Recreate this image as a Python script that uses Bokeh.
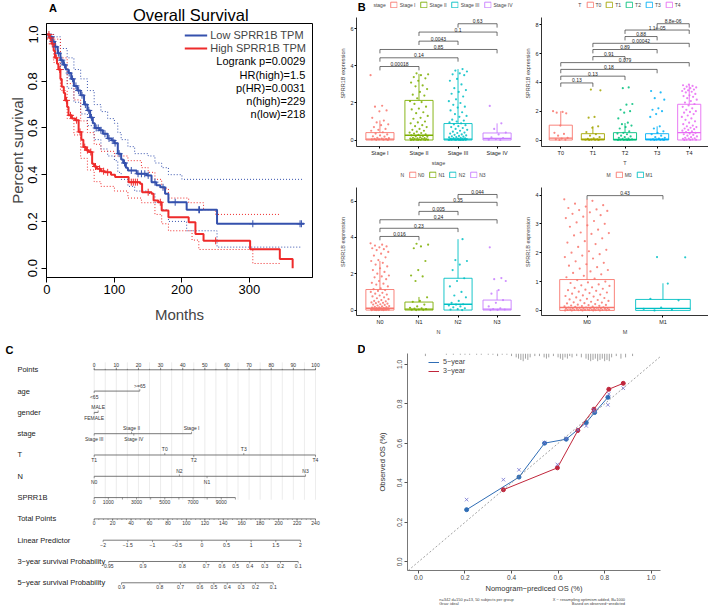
import numpy as np
from bokeh.plotting import figure
from bokeh.models import (ColumnDataSource, Range1d, FixedTicker, Legend, LegendItem,
                          Slope, PrintfTickFormatter)
from bokeh.layouts import row, column
from bokeh.embed import file_html
from bokeh.resources import INLINE
from bokeh.core.properties import value

FONT = "Liberation Sans"

# ---------------- Panel A data (Kaplan-Meier) ----------------
low_t = [0, 4, 8, 12, 16, 20, 24, 28, 32, 36, 40, 45, 50, 55, 60, 64, 68, 71, 78, 83,
         90, 96, 100, 105, 110, 113, 117, 120, 133, 148, 155, 162, 168, 175, 180, 207, 252, 381]
low_s = [1.0, 0.99, 0.97, 0.947, 0.92, 0.89, 0.87, 0.85, 0.835, 0.81, 0.78, 0.76, 0.74, 0.70, 0.675,
         0.645, 0.62, 0.60, 0.59, 0.575, 0.555, 0.546, 0.535, 0.49, 0.465, 0.45, 0.43, 0.418, 0.404,
         0.397, 0.368, 0.355, 0.346, 0.318, 0.282, 0.25, 0.19, 0.19]
high_t = [0, 4, 7, 10, 12, 15, 17, 20, 22, 25, 27, 30, 32, 37, 42, 47, 51, 54, 58, 62, 67, 70, 74,
          80, 86, 95, 101, 121, 138, 141, 155, 158, 165, 170, 180, 210, 220, 232, 301, 345, 364]
high_s = [1.0, 0.985, 0.96, 0.93, 0.90, 0.875, 0.85, 0.81, 0.776, 0.75, 0.718, 0.69, 0.654, 0.64,
          0.633, 0.583, 0.55, 0.518, 0.505, 0.497, 0.447, 0.435, 0.425, 0.415, 0.41, 0.40, 0.39,
          0.368, 0.361, 0.325, 0.318, 0.29, 0.282, 0.247, 0.218, 0.196, 0.146, 0.117, 0.081, 0.039, 0.0]
low_up_t = [0, 10, 20, 30, 40, 50, 60, 70, 80, 90, 100, 105, 110, 120, 130, 150, 160, 170, 180, 200, 378]
low_up_s = [1.0, 0.99, 0.94, 0.90, 0.85, 0.81, 0.76, 0.70, 0.67, 0.64, 0.62, 0.58, 0.55, 0.52, 0.49,
            0.48, 0.45, 0.43, 0.40, 0.38, 0.38]
low_lo_t = [0, 10, 20, 30, 40, 50, 60, 70, 80, 90, 100, 105, 110, 120, 130, 150, 160, 170, 180, 207, 252, 378]
low_lo_s = [1.0, 0.93, 0.85, 0.77, 0.71, 0.66, 0.61, 0.55, 0.51, 0.48, 0.46, 0.41, 0.38, 0.35, 0.33,
            0.32, 0.28, 0.25, 0.20, 0.16, 0.09, 0.09]
high_up_t = [0, 10, 20, 30, 40, 50, 60, 70, 80, 100, 120, 140, 150, 160, 170, 180, 210, 232, 250, 345]
high_up_s = [1.0, 0.98, 0.90, 0.79, 0.72, 0.63, 0.58, 0.53, 0.50, 0.48, 0.46, 0.43, 0.41, 0.38, 0.34,
             0.30, 0.28, 0.25, 0.23, 0.23]
high_lo_t = [0, 10, 20, 30, 40, 50, 60, 70, 80, 100, 120, 140, 160, 170, 180, 215, 225, 305, 345]
high_lo_s = [0.98, 0.88, 0.76, 0.64, 0.57, 0.47, 0.42, 0.37, 0.35, 0.33, 0.30, 0.28, 0.23, 0.19,
             0.16, 0.12, 0.08, 0.02, 0.02]
low_cens = [6, 9, 13, 17, 22, 26, 33, 38, 43, 47, 52, 57, 62, 66, 73, 76, 80, 86, 92, 98, 101, 107,
            115, 125, 135, 140, 145, 150, 160, 172, 190, 225, 226, 305, 375, 377]
high_cens = [3, 5, 8, 14, 19, 29, 35, 44, 49, 56, 60, 65, 72, 78, 84, 90, 125, 128, 131, 134, 150, 168, 250]
stats_text = ["Logrank p=0.0029", "HR(high)=1.5", "p(HR)=0.0031", "n(high)=229", "n(low)=218"]

# ---------------- Panel B data ----------------
stage_names = ["Stage I", "Stage II", "Stage III", "Stage IV"]
stage_q1 = [0, 0, 0, 0]
stage_med = [0.05, 0.26, 0.05, 0.08]
stage_q3 = [0.4, 2.14, 0.89, 0.38]
stage_whi = [1.06, 3.57, 3.83, 0.9]
stage_pts = [
    [3.5, 1.85, 1.8, 1.6, 1.55, 1.2, 1.05, 0.95, 0.85, 0.8, 0.7, 0.6, 0.55, 0.5, 0.42, 0.35, 0.3, 0.25,
     0.2, 0.18, 0.12, 0.1, 0.08, 0.06, 0.05, 0.04, 0.03, 0.02, 0.01, 0.0],
    [3.6, 3.55, 3.5, 3.4, 3.33, 3.2, 3.1, 2.95, 2.9, 2.75, 2.6, 2.45, 2.4, 2.25, 2.1, 2.05, 1.95, 1.8,
     1.7, 1.65, 1.5, 1.45, 1.3, 1.2, 1.15, 1.0, 0.95, 0.9, 0.8, 0.75, 0.7, 0.6, 0.55, 0.5, 0.45, 0.4,
     0.38, 0.35, 0.3, 0.28, 0.25, 0.22, 0.2, 0.18, 0.15, 0.12, 0.1, 0.09, 0.08, 0.07, 0.06, 0.05, 0.04,
     0.03, 0.03, 0.02, 0.02, 0.01, 0.01, 0.0, 0.0, 0.0],
    [3.83, 3.75, 3.7, 3.6, 3.55, 3.5, 3.3, 3.2, 3.0, 2.8, 2.7, 2.6, 2.5, 2.35, 2.2, 2.1, 2.0, 1.9, 1.8,
     1.75, 1.6, 1.5, 1.4, 1.3, 1.25, 1.1, 1.05, 1.0, 0.95, 0.9, 0.85, 0.8, 0.75, 0.7, 0.65, 0.6, 0.55,
     0.5, 0.45, 0.4, 0.38, 0.35, 0.3, 0.28, 0.25, 0.22, 0.2, 0.18, 0.16, 0.14, 0.12, 0.1, 0.09, 0.08,
     0.07, 0.06, 0.05, 0.05, 0.04, 0.04, 0.03, 0.03, 0.02, 0.02, 0.02, 0.01, 0.01, 0.01, 0.0, 0.0, 0.0, 0.0],
    [1.84, 0.9, 0.6, 0.4, 0.3, 0.15, 0.1, 0.05, 0.02, 0.0],
]
stage_cmp = [(1, 2, "0.00018", 3.97), (1, 3, "0.14", 4.44), (1, 4, "0.85", 4.89),
             (2, 3, "0.0043", 5.34), (2, 4, "0.1", 5.83), (3, 4, "0.63", 6.28)]

t_names = ["T0", "T1", "T2", "T3", "T4"]
t_q1 = [0, 0, 0, 0, 0]
t_med = [0.13, 0.05, 0.04, 0.05, 0.51]
t_q3 = [1.03, 0.44, 0.51, 0.44, 2.48]
t_whi = [2.0, 0.96, 1.18, 0.95, 3.83]
t_pts = [
    [2.0, 1.95, 1.9, 1.85, 1.0, 0.5, 0.42, 0.3, 0.15, 0.1, 0.05, 0.02, 0.0],
    [3.5, 3.45, 1.6, 1.55, 0.95, 0.85, 0.55, 0.4, 0.3, 0.2, 0.12, 0.08, 0.05, 0.03, 0.02, 0.01, 0.0, 0.0],
    [3.65, 3.6, 2.5, 2.45, 2.1, 2.0, 1.9, 1.5, 1.2, 1.1, 1.0, 0.9, 0.8, 0.6, 0.5, 0.45, 0.4, 0.3, 0.25,
     0.2, 0.15, 0.1, 0.08, 0.05, 0.04, 0.03, 0.02, 0.01, 0.0, 0.0],
    [3.4, 3.3, 2.9, 2.8, 2.2, 2.1, 2.0, 1.8, 1.6, 0.95, 0.8, 0.6, 0.5, 0.4, 0.3, 0.2, 0.15, 0.1, 0.05,
     0.04, 0.03, 0.02, 0.01, 0.0, 0.0],
    [3.85, 3.8, 3.75, 3.7, 3.65, 3.6, 3.55, 3.5, 3.45, 3.4, 3.35, 3.3, 3.2, 3.1, 3.05, 3.0, 2.9, 2.8,
     2.7, 2.6, 2.5, 2.4, 2.3, 2.2, 2.1, 2.0, 1.95, 1.9, 1.8, 1.7, 1.6, 1.5, 1.4, 1.3, 1.2, 1.1, 1.0,
     0.95, 0.9, 0.85, 0.8, 0.75, 0.7, 0.65, 0.6, 0.55, 0.5, 0.45, 0.4, 0.35, 0.3, 0.25, 0.2, 0.15,
     0.12, 0.1, 0.08, 0.05, 0.03, 0.02, 0.01, 0.0],
]
t_cmp = [(1, 2, "0.13", 3.96), (1, 3, "0.13", 4.43), (1, 4, "0.18", 4.90), (1, 5, "0.079", 5.37),
         (2, 3, "0.91", 5.79), (2, 4, "0.89", 6.28), (2, 5, "0.00042", 6.71), (3, 4, "0.88", 7.18),
         (3, 5, "1.1e-05", 7.63), (4, 5, "8.8e-06", 8.07)]

n_names = ["N0", "N1", "N2", "N3"]
n_q1 = [0, 0, 0, 0]
n_med = [0.1, 0.05, 0.32, 0.05]
n_q3 = [1.13, 0.44, 1.75, 0.55]
n_whi = [2.7, 0.72, 3.9, 1.1]
n_pts = [
    [3.67, 3.6, 3.55, 3.5, 3.45, 3.4, 3.35, 3.3, 3.2, 3.1, 3.0, 2.9, 2.75, 2.7, 2.6, 2.5, 2.4, 2.3, 2.2,
     2.1, 2.0, 1.9, 1.85, 1.8, 1.7, 1.6, 1.5, 1.45, 1.4, 1.3, 1.2, 1.15, 1.1, 1.05, 1.0, 0.95, 0.9,
     0.85, 0.8, 0.75, 0.7, 0.65, 0.6, 0.55, 0.5, 0.48, 0.45, 0.42, 0.4, 0.38, 0.35, 0.32, 0.3, 0.28,
     0.25, 0.22, 0.2, 0.18, 0.16, 0.15, 0.13, 0.12, 0.11, 0.1, 0.09, 0.08, 0.07, 0.06, 0.05, 0.05,
     0.04, 0.04, 0.03, 0.03, 0.02, 0.02, 0.02, 0.01, 0.01, 0.01, 0.0, 0.0, 0.0, 0.0],
    [3.65, 3.6, 3.5, 3.4, 2.7, 2.2, 1.9, 1.85, 1.6, 0.7, 0.5, 0.45, 0.3, 0.2, 0.12, 0.1, 0.08, 0.05,
     0.03, 0.02, 0.01, 0.0],
    [3.9, 2.75, 2.7, 2.5, 2.2, 1.75, 1.6, 1.3, 1.0, 0.8, 0.7, 0.5, 0.4, 0.32, 0.3, 0.25, 0.2, 0.15,
     0.1, 0.05, 0.03, 0.0],
    [3.45, 1.76, 1.7, 1.6, 1.1, 0.9, 0.55, 0.4, 0.2, 0.1, 0.05, 0.03, 0.01, 0.0],
]
n_cmp = [(1, 2, "0.016", 4.05), (1, 3, "0.23", 4.5), (1, 4, "0.24", 4.97),
         (2, 3, "0.005", 5.43), (2, 4, "0.35", 5.93), (3, 4, "0.044", 6.36)]

m_names = ["M0", "M1"]
m_q1 = [0, 0]
m_med = [0.1, 0.07]
m_q3 = [1.07, 0.38]
m_whi = [3.86, 0.94]
m_pts = [
    [3.85, 3.8, 3.7, 3.65, 3.6, 3.55, 3.5, 3.48, 3.45, 3.4, 3.35, 3.3, 3.25, 3.2, 3.1, 3.05, 3.0, 2.95,
     2.9, 2.8, 2.7, 2.68, 2.65, 2.6, 2.5, 2.4, 2.35, 2.3, 2.2, 2.1, 2.05, 2.0, 1.95, 1.9, 1.85, 1.8,
     1.7, 1.65, 1.6, 1.55, 1.5, 1.45, 1.4, 1.35, 1.3, 1.25, 1.2, 1.15, 1.1, 1.05, 1.0, 0.97, 0.95, 0.9,
     0.87, 0.85, 0.8, 0.78, 0.75, 0.72, 0.7, 0.68, 0.65, 0.62, 0.6, 0.58, 0.55, 0.52, 0.5, 0.48, 0.45,
     0.43, 0.4, 0.38, 0.36, 0.35, 0.33, 0.3, 0.28, 0.27, 0.25, 0.24, 0.22, 0.2, 0.19, 0.18, 0.17, 0.16,
     0.15, 0.14, 0.13, 0.12, 0.11, 0.1, 0.1, 0.09, 0.09, 0.08, 0.08, 0.07, 0.07, 0.06, 0.06, 0.05,
     0.05, 0.05, 0.04, 0.04, 0.04, 0.03, 0.03, 0.03, 0.02, 0.02, 0.02, 0.02, 0.01, 0.01, 0.01, 0.01,
     0.0, 0.0, 0.0, 0.0, 0.0],
    [1.85, 1.84, 0.93, 0.4, 0.35, 0.1, 0.05, 0.02, 0.0],
]
m_cmp = [(1, 2, "0.43", 3.98)]

HUE4 = ["#F8766D", "#7CAE00", "#00BFC4", "#C77CFF"]
HUE5 = ["#F8766D", "#A3A500", "#00BF7D", "#00B0F6", "#E76BF3"]
HUE2 = ["#F8766D", "#00BFC4"]

# ---------------- Panel C data (nomogram) ----------------
row_names = ["Points", "age", "gender", "stage", "T", "N", "SPRR1B", "Total Points",
             "Linear Predictor", "3\u2212year survival Probability", "5\u2212year survival Probability"]
points_ticks = list(range(0, 101, 10))
age_lv = ["<65", ">=65"]
age_pt = [0, 20.6]
gender_lv = ["FEMALE", "MALE"]
gender_pt = [0, 1.8]
stage_lv = ["Stage III", "Stage II", "Stage IV", "Stage I"]
stage_pt = [0, 16.9, 17.9, 44.0]
tcat_lv = ["T1", "T0", "T2", "T3", "T4"]
tcat_pt = [0, 31.9, 45.0, 67.6, 100]
ncat_lv = ["N0", "N2", "N1", "N3"]
ncat_pt = [0, 38.5, 51.0, 95.5]
sprr_ticks = list(range(0, 10001, 1000))
sprr_labels = [0, 1000, 3000, 5000, 7000, 9000]
sprr_max_points = 63.8
total_ticks = list(range(0, 241, 20))
lp_ticks = [-2, -1.5, -1, -0.5, 0, 0.5, 1, 1.5, 2]
lp_tick_labels = ["\u22122", "\u22121.5", "\u22121", "\u22120.5", "0", "0.5", "1", "1.5", "2"]
lp_zero_total = 116.7
lp_unit_total = 53.5
surv3_lab = ["0.95", "0.9", "0.8", "0.7", "0.6", "0.5", "0.4", "0.3", "0.2", "0.1"]
surv3_total = [15.8, 53.0, 95.5, 121.4, 138.7, 153.4, 168.7, 185.0, 202.0, 221.3]
surv5_lab = ["0.9", "0.8", "0.7", "0.6", "0.5", "0.4", "0.3", "0.2", "0.1"]
surv5_total = [29.6, 71.2, 93.6, 114.6, 129.8, 144.3, 159.4, 174.9, 194.2]

# ---------------- Panel D data (calibration) ----------------
pred5 = [0.207, 0.432, 0.542, 0.635, 0.721, 0.757, 0.814]
obs5 = [0.264, 0.429, 0.601, 0.621, 0.705, 0.756, 0.833]
corr5 = [0.315, 0.466, 0.604, 0.624, 0.688, 0.760, 0.795]
pred3 = [0.365, 0.597, 0.685, 0.754, 0.818, 0.880]
obs3 = [0.365, 0.476, 0.665, 0.773, 0.874, 0.904]
corr3 = [0.416, 0.493, 0.668, 0.770, 0.850, 0.879]
rug_x = [0.03, 0.12, 0.15, 0.18, 0.2, 0.22, 0.25, 0.27, 0.3, 0.32, 0.34, 0.36, 0.38, 0.4, 0.42, 0.43,
         0.44, 0.45, 0.46, 0.47, 0.48, 0.5, 0.52, 0.54, 0.55, 0.56, 0.58, 0.6, 0.61, 0.62, 0.63, 0.64,
         0.65, 0.66, 0.68, 0.7, 0.72, 0.73, 0.74, 0.75, 0.76, 0.77, 0.78, 0.79, 0.8, 0.81, 0.82, 0.83,
         0.85, 0.87, 0.89, 0.92]
rug_h = [2, 1, 1, 1, 1, 1, 1, 1, 1, 1, 2, 1, 1, 2, 3, 4, 5, 6, 4, 5, 3, 2, 2, 3, 4, 3, 2, 3, 4, 5,
         3, 4, 2, 3, 2, 3, 4, 5, 6, 5, 4, 6, 5, 4, 6, 5, 6, 3, 2, 4, 3, 2]
foot_left = ["n=342 d=150 p=13, 50 subjects per group", "Gray: ideal"]
foot_right = ["X \u2212 resampling optimism added, B=1000", "Based on observed\u2212predicted"]


def jitter(n, w, shift):
    k = np.arange(n)
    return ((k * 0.6180339887 + shift) % 1.0 - 0.5) * 2 * w


def strip(w, h):
    s = figure(width=w, height=h, x_range=Range1d(0, w), y_range=Range1d(h, 0),
               x_axis_location=None, y_axis_location=None, min_border=0,
               output_backend="svg", toolbar_location=None)
    s.outline_line_color = None
    s.grid.visible = False
    return s


# ======================= Panel A =======================
BLUE = "#3551ad"
RED = "#ee2b2b"
sA = strip(330, 23)
sA.text(x=[3], y=[7], text=["A"], text_font=value(FONT), text_font_size="11px",
        text_font_style="bold", text_baseline="middle", text_align="left")
sA.text(x=[179], y=[14], text=["Overall Survival"], text_font=value(FONT), text_font_size="16.5px",
        text_baseline="middle", text_align="center")

pA = figure(width=330, height=314, x_range=Range1d(-0.6, 393.4), y_range=Range1d(-0.04, 1.047),
            output_backend="svg", toolbar_location=None,
            min_border_left=46, min_border_right=18, min_border_top=0, min_border_bottom=60)
pA.grid.visible = False
pA.outline_line_color = "black"
pA.outline_line_width = 1
for tt, ss, cc in [(low_up_t, low_up_s, BLUE), (low_lo_t, low_lo_s, BLUE),
                   (high_up_t, high_up_s, RED), (high_lo_t, high_lo_s, RED)]:
    pA.step(x=tt, y=ss, mode="after", line_color=cc, line_dash="1 2", line_width=1)
r_low = pA.step(x=low_t, y=low_s, mode="after", line_color=BLUE, line_width=2)
r_high = pA.step(x=high_t, y=high_s, mode="after", line_color=RED, line_width=2)


def surv_at(ts, ss, q):
    idx = np.searchsorted(np.array(ts), np.array(q), side="right") - 1
    return np.array(ss)[idx]


pA.scatter(x=low_cens, y=surv_at(low_t, low_s, low_cens), marker="cross", size=7,
           line_color=BLUE, line_width=1)
pA.scatter(x=high_cens, y=surv_at(high_t, high_s, high_cens), marker="cross", size=7,
           line_color=RED, line_width=1)
legA = Legend(items=[LegendItem(label="Low SPRR1B TPM", renderers=[r_low]),
                     LegendItem(label="High SPRR1B TPM", renderers=[r_high])],
              location="top_right", margin=6, padding=0, spacing=1, glyph_width=23,
              glyph_height=12, label_height=12, label_standoff=3, label_text_font=FONT,
              label_text_font_size="11px", border_line_color=None, background_fill_alpha=0)
pA.add_layout(legA)
stat_y = [0.885, 0.828, 0.772, 0.715, 0.658]
pA.text(x=[382.7] * len(stats_text), y=stat_y, text=stats_text, text_align="right",
        text_baseline="middle", text_font=value(FONT), text_font_size="11px", text_color="black")
pA.xaxis.ticker = FixedTicker(ticks=[0, 100, 200, 300])
pA.yaxis.ticker = FixedTicker(ticks=[0, 0.2, 0.4, 0.6, 0.8, 1.0])
pA.yaxis.formatter = PrintfTickFormatter(format="%.1f")
pA.yaxis.major_label_orientation = "vertical"
pA.xaxis.axis_label = "Months"
pA.yaxis.axis_label = "Percent survival"
for ax in pA.axis:
    ax.axis_line_color = "black"
    ax.major_tick_line_color = "black"
    ax.major_tick_out = 5
    ax.major_tick_in = 0
    ax.minor_tick_line_color = None
    ax.major_label_text_font = FONT
    ax.major_label_text_font_size = "13px"
    ax.major_label_text_color = "black"
    ax.axis_label_text_font = FONT
    ax.axis_label_text_font_size = "15px"
    ax.axis_label_text_font_style = "normal"
pA.xaxis.major_label_standoff = 2
pA.yaxis.major_label_standoff = 4
pA.xaxis.axis_label_standoff = 9
pA.yaxis.axis_label_standoff = 0


# ======================= Panel B =======================
def box_panel(w, h, names, colors, q1, med, q3, whi, pts, cmp, yr, ytop, yticks, xlab, ltitle,
              mbl, mbr, mbb, lmargin, jw):
    n = len(names)
    xs = list(range(1, n + 1))
    p = figure(width=w, height=h, x_range=Range1d(0.4, n + 0.6), y_range=Range1d(*yr),
               output_backend="svg", toolbar_location=None,
               min_border_left=mbl, min_border_right=mbr, min_border_top=0, min_border_bottom=mbb)
    p.outline_line_color = None
    p.grid.visible = False
    src = ColumnDataSource(dict(x=xs, q1=q1, q3=q3, color=colors))
    rb = p.vbar(x="x", width=0.72, bottom="q1", top="q3", fill_color="white",
                line_color="color", line_width=0.9, source=src)
    p.segment(x0=xs, y0=q3, x1=xs, y1=whi, line_color=colors, line_width=0.9)
    p.segment(x0=[x - 0.36 for x in xs], y0=med, x1=[x + 0.36 for x in xs], y1=med,
              line_color=colors, line_width=1.4)
    for i, vals in enumerate(pts):
        off = jitter(len(vals), jw, 0.37 * i)
        p.scatter(x=xs[i] + off, y=vals, size=2.2, fill_color=colors[i], line_width=0, fill_alpha=0.85)
    tip = 0.03 * (ytop - yr[0])
    ca = [c[0] for c in cmp]
    cb = [c[1] for c in cmp]
    cl = [c[2] for c in cmp]
    cy = [c[3] for c in cmp]
    p.segment(x0=ca, y0=cy, x1=cb, y1=cy, line_color="#333333", line_width=0.7)
    p.segment(x0=ca, y0=cy, x1=ca, y1=[y - tip for y in cy], line_color="#333333", line_width=0.7)
    p.segment(x0=cb, y0=cy, x1=cb, y1=[y - tip for y in cy], line_color="#333333", line_width=0.7)
    p.text(x=[(a + b) / 2 for a, b in zip(ca, cb)], y=cy, text=cl, text_align="center",
           text_baseline="bottom", y_offset=-0.5, text_font=value(FONT), text_font_size="5px",
           text_color="#222222")
    r0 = p.scatter(x=[], y=[], size=0, fill_alpha=0, line_alpha=0)
    items = [LegendItem(label=ltitle, renderers=[r0])] + \
            [LegendItem(label=nm, renderers=[rb], index=i) for i, nm in enumerate(names)]
    leg = Legend(items=items, orientation="horizontal", location="top_center",
                 glyph_width=8, glyph_height=7, label_height=7, label_width=1, label_standoff=2,
                 spacing=4, padding=1, margin=lmargin, label_text_font=FONT, label_text_font_size="5px",
                 border_line_color=None, background_fill_alpha=0)
    p.add_layout(leg)
    p.xaxis.ticker = FixedTicker(ticks=xs)
    p.xaxis.major_label_overrides = {x: nm for x, nm in zip(xs, names)}
    p.yaxis.ticker = FixedTicker(ticks=yticks)
    p.yaxis.bounds = (yr[0], ytop)
    p.xaxis.axis_label = xlab
    p.yaxis.axis_label = "SPRR1B expression"
    for ax in p.axis:
        ax.axis_line_color = "black"
        ax.axis_line_width = 0.8
        ax.major_tick_line_color = "black"
        ax.major_tick_out = 2
        ax.major_tick_in = 0
        ax.minor_tick_line_color = None
        ax.major_label_text_font = FONT
        ax.major_label_text_font_size = "5.5px"
        ax.major_label_text_color = "#222222"
        ax.major_label_standoff = 1
        ax.axis_label_text_font = FONT
        ax.axis_label_text_font_size = "5.5px"
        ax.axis_label_text_font_style = "normal"
        ax.axis_label_standoff = 1
    return p


pB1 = box_panel(192, 168, stage_names, HUE4, stage_q1, stage_med, stage_q3, stage_whi, stage_pts,
                stage_cmp, (-0.35, 7.535), 6.62, [0, 2, 4, 6], "stage", "stage", 26, 2, 17, 1, 0.24)
pB1.text(x=[0.43], y=[7.2], text=["B"], text_font=value(FONT), text_font_size="11px",
         text_font_style="bold", text_baseline="middle", text_align="left")
pB2 = box_panel(186, 168, t_names, HUE5, t_q1, t_med, t_q3, t_whi, t_pts,
                t_cmp, (-0.45, 9.68), 8.5, [0, 2, 4, 6, 8], "T", "T", 14, 0, 17, 1, 0.24)
pB3 = box_panel(192, 169, n_names, HUE4, n_q1, n_med, n_q3, n_whi, n_pts,
                n_cmp, (-0.30, 7.79), 6.74, [0, 2, 4, 6], "N", "N", 26, 2, 16, 3, 0.24)
pB4 = box_panel(186, 169, m_names, HUE2, m_q1, m_med, m_q3, m_whi, m_pts,
                m_cmp, (-0.177, 4.92), 4.25, [0, 1, 2, 3, 4], "M", "M", 14, 0, 16, 3, 0.3)

# ======================= Panel C =======================
pC = figure(width=365, height=268, x_range=Range1d(-42.34, 122.6), y_range=Range1d(11.066, -1.516),
            x_axis_location=None, y_axis_location=None, min_border=0,
            output_backend="svg", toolbar_location=None)
pC.outline_line_color = None
pC.grid.visible = False
LC = "#555555"
TC = "#333333"
TK = 0.09
grid_x = list(range(0, 101, 5))
pC.segment(x0=grid_x, y0=-0.35, x1=grid_x, y1=6.1, line_color="#e4e4e4", line_width=0.7)
pC.text(x=-34.7, y=list(range(len(row_names))), text=row_names, text_baseline="middle",
        text_align="left", text_font=value(FONT), text_font_size="7.5px", text_color="#222222")
pC.text(x=[-40.1, 119.0], y=[-0.906, -0.953], text=["C", "D"], text_baseline="middle",
        text_font=value(FONT), text_font_size="11px", text_font_style="bold", text_color="black")


def hline(r, x0, x1):
    pC.segment(x0=[x0], y0=[r], x1=[x1], y1=[r], line_color=LC, line_width=0.8)


def ticks(r, xs, up, length=TK):
    yy = r - length if up else r + length
    pC.segment(x0=xs, y0=r, x1=xs, y1=yy, line_color=LC, line_width=0.6)


def labels(r, xs, txt, up):
    pC.text(x=xs, y=r, text=txt, text_align="center",
            text_baseline="bottom" if up else "top", y_offset=-2.5 if up else 2.5,
            text_font=value(FONT), text_font_size="5px", text_color=TC)


# Points
hline(0, 0, 100)
ticks(0, points_ticks, True)
ticks(0, list(range(0, 101, 5)), True, TK / 2)
labels(0, points_ticks, [str(v) for v in points_ticks], True)


def cat_row(r, lv, pt):
    order = np.argsort(pt)
    xs = [pt[i] for i in order]
    ls = [lv[i] for i in order]
    hline(r, min(xs), max(xs))
    xu = [x for k, x in enumerate(xs) if k % 2 == 1]
    lu = [l for k, l in enumerate(ls) if k % 2 == 1]
    xd = [x for k, x in enumerate(xs) if k % 2 == 0]
    ld = [l for k, l in enumerate(ls) if k % 2 == 0]
    ticks(r, xu, True)
    ticks(r, xd, False)
    labels(r, xu, lu, True)
    labels(r, xd, ld, False)


cat_row(1, age_lv, age_pt)
cat_row(2, gender_lv, gender_pt)
cat_row(3, stage_lv, stage_pt)
cat_row(4, tcat_lv, tcat_pt)
cat_row(5, ncat_lv, ncat_pt)

# SPRR1B
sp_scale = sprr_max_points / max(sprr_ticks)
hline(6, 0, sprr_max_points)
ticks(6, [v * sp_scale for v in sprr_ticks], False)
labels(6, [v * sp_scale for v in sprr_labels], [str(v) for v in sprr_labels], False)

# Total points
tp = 100.0 / 240.0
hline(7, 0, 100)
ticks(7, [v * tp for v in total_ticks], False)
ticks(7, [v * tp for v in range(0, 241, 5)], False, TK / 2)
labels(7, [v * tp for v in total_ticks], [str(v) for v in total_ticks], False)

# Linear predictor
lp_x = [(lp_zero_total + lp_unit_total * v) * tp for v in lp_ticks]
hline(8, min(lp_x), max(lp_x))
ticks(8, lp_x, False)
labels(8, lp_x, lp_tick_labels, False)

# Survival probabilities
s3 = [v * tp for v in surv3_total]
hline(9, min(s3), max(s3))
ticks(9, s3, False)
labels(9, s3, surv3_lab, False)
s5 = [v * tp for v in surv5_total]
hline(10, min(s5), max(s5))
ticks(10, s5, False)
labels(10, s5, surv5_lab, False)

# ======================= Panel D =======================
C5 = "#2f6db5"
C3 = "#c0263b"
XC = "#7272d0"
pD = figure(width=343, height=258, x_range=Range1d(-0.047, 1.04), y_range=Range1d(-0.044, 1.055),
            output_backend="svg", toolbar_location=None,
            min_border_left=42, min_border_right=48, min_border_top=16, min_border_bottom=24)
pD.outline_line_color = None
pD.grid.visible = False
pD.add_layout(Slope(gradient=1, y_intercept=0, line_color="#8a8a8a", line_dash="2 2", line_width=0.8))
rug_top = 1.055
pD.segment(x0=rug_x, y0=rug_top, x1=rug_x, y1=[rug_top - h * 0.0065 for h in rug_h],
           line_color="#666666", line_width=0.6)
r5 = pD.line(x=pred5, y=obs5, line_color=C5, line_width=1)
pD.scatter(x=pred5, y=obs5, size=4, fill_color=C5, line_color=C5)
r3 = pD.line(x=pred3, y=obs3, line_color=C3, line_width=1)
pD.scatter(x=pred3, y=obs3, size=4, fill_color=C3, line_color=C3)
pD.scatter(x=pred5, y=corr5, marker="x", size=5, line_color=XC, line_width=0.8)
pD.scatter(x=pred3, y=corr3, marker="x", size=5, line_color=XC, line_width=0.8)
legD = Legend(items=[LegendItem(label="5\u2212year", renderers=[r5]),
                     LegendItem(label="3\u2212year", renderers=[r3])],
              location=(21, 195), padding=0, spacing=0, margin=0, glyph_width=11, glyph_height=8,
              label_height=8, label_standoff=4, label_text_font=FONT, label_text_font_size="7.2px",
              border_line_color=None, background_fill_alpha=0)
pD.add_layout(legD)
pD.xaxis.ticker = FixedTicker(ticks=[0, 0.2, 0.4, 0.6, 0.8, 1.0])
pD.yaxis.ticker = FixedTicker(ticks=[0, 0.2, 0.4, 0.6, 0.8, 1.0])
pD.xaxis.formatter = PrintfTickFormatter(format="%.1f")
pD.yaxis.formatter = PrintfTickFormatter(format="%.1f")
pD.yaxis.major_label_orientation = "vertical"
pD.xaxis.axis_label = "Nomogram\u2212prediced OS (%)"
pD.yaxis.axis_label = "Observed OS (%)"
for ax in pD.axis:
    ax.axis_line_color = "#555555"
    ax.axis_line_width = 0.8
    ax.major_tick_line_color = "#555555"
    ax.major_tick_out = 3
    ax.major_tick_in = 0
    ax.minor_tick_line_color = None
    ax.major_label_text_font = FONT
    ax.major_label_text_font_size = "6.5px"
    ax.major_label_text_color = "#444444"
    ax.axis_label_text_font = FONT
    ax.axis_label_text_font_size = "7.5px"
    ax.axis_label_text_font_style = "normal"
    ax.axis_label_text_color = "#333333"
pD.xaxis.major_label_standoff = 1
pD.yaxis.major_label_standoff = 2
pD.xaxis.axis_label_standoff = 1
pD.yaxis.axis_label_standoff = 8

sD = strip(343, 10)
sD.text(x=[43, 43], y=[1.8, 5.6], text=foot_left, text_align="left", text_baseline="middle",
        text_font=value(FONT), text_font_size="4px", text_color="#444444")
sD.text(x=[295, 295], y=[1.8, 5.6], text=foot_right, text_align="right", text_baseline="middle",
        text_font=value(FONT), text_font_size="4px", text_color="#444444")

layout = column(row(column(sA, pA), column(row(pB1, pB2), row(pB3, pB4))),
                row(pC, column(pD, sD)))
open("out.html", "w").write(file_html(layout, INLINE))
